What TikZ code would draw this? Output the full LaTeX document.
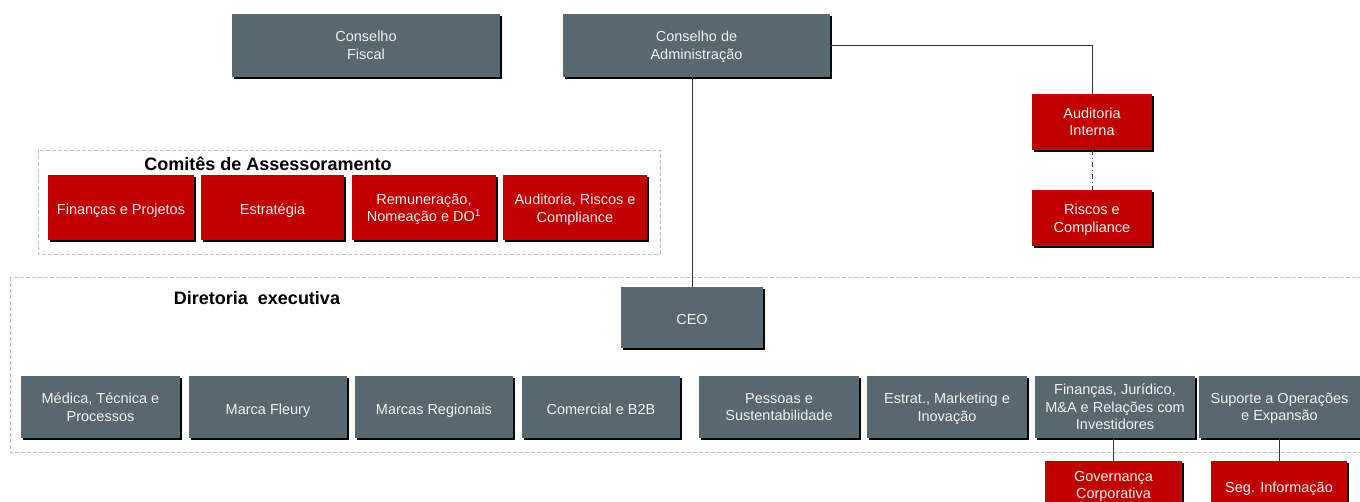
\documentclass[tikz,border=0pt]{standalone}
\usepackage{fontspec}
\setmainfont{Liberation Sans}
\usepackage{tikz}
\usetikzlibrary{shadows}
\definecolor{boxgray}{RGB}{87,104,113}
\definecolor{boxred}{RGB}{192,0,0}
\definecolor{boxtext}{RGB}{240,240,240}

\begin{document}
\begin{tikzpicture}[x=1pt,y=-1pt]
    \tikzstyle{every node}+=[inner sep=0pt]
    \tikzstyle{orgbox}=[rectangle, fill=boxgray, text=boxtext, align=center,
        font=\fontsize{14.5}{17.5}\selectfont, text depth=0pt,
        drop shadow={shadow xshift=2pt, shadow yshift=-2pt, fill=black, opacity=1}]
    \tikzstyle{redbox}=[orgbox, fill=boxred]
    \tikzstyle{oneline}=[text height=14pt]
    \tikzstyle{frame}=[draw=black!25, line width=0.8pt, dash pattern=on 4pt off 2pt]
    \tikzstyle{title}=[font=\fontsize{18}{20}\selectfont\bfseries]
    \tikzstyle{link}=[draw=black!80, line width=1pt]
    \useasboundingbox (0,0) rectangle (1360,502);
    % frames
    \draw [frame] (38,150) rectangle (660,254);
    \draw [frame] (10,277) rectangle (1366,452);
    \node [title] (comtitle) at (268,164) {Comitês de Assessoramento};
    \node [title] (dirtitle) at (257,298) {Diretoria\ \ executiva};
    % conselhos
    \node [orgbox, minimum width=268, minimum height=63] (cf) at (366,45.5) {Conselho\\Fiscal};
    \node [orgbox, minimum width=267, minimum height=63] (ca) at (696.5,45.5) {Conselho de\\Administração};
    \node [redbox, minimum width=120, minimum height=56] (aud) at (1092,122) {Auditoria\\Interna};
    \node [redbox, minimum width=120, minimum height=56] (risc) at (1092,218) {Riscos e\\Compliance};
    % comites
    \node [redbox, oneline, minimum width=146, minimum height=65] (fp) at (121,208) {Finanças e Projetos};
    \node [redbox, oneline, minimum width=143, minimum height=65] (estr) at (272.5,208) {Estratégia};
    \node [redbox, minimum width=144, minimum height=65] (rem) at (424,208) {Remuneração,\\Nomeação e DO\textsuperscript{1}};
    \node [redbox, minimum width=144, minimum height=65] (arc) at (575,208) {Auditoria, Riscos e\\Compliance};
    % diretoria
    \node [orgbox, oneline, minimum width=142, minimum height=61] (ceo) at (692,317.5) {CEO};
    \node [orgbox, minimum width=159, minimum height=62] (med) at (100.5,407) {Médica, Técnica e\\Processos};
    \node [orgbox, oneline, minimum width=158, minimum height=62] (fleury) at (268,407) {Marca Fleury};
    \node [orgbox, oneline, minimum width=158, minimum height=62] (regio) at (434,407) {Marcas Regionais};
    \node [orgbox, oneline, minimum width=158, minimum height=62] (comer) at (601,407) {Comercial e B2B};
    \node [orgbox, minimum width=160, minimum height=62] (pess) at (779,407) {Pessoas e\\Sustentabilidade};
    \node [orgbox, minimum width=160, minimum height=62] (mkt) at (947,407) {Estrat., Marketing e\\Inovação};
    \node [orgbox, minimum width=160, minimum height=62] (fin) at (1115,407) {Finanças, Jurídico,\\M\&A e Relações com\\Investidores};
    \node [orgbox, minimum width=161, minimum height=62] (sup) at (1279.5,407) {Suporte a Operações\\e Expansão};
    \node [redbox, minimum width=137, minimum height=48] (gov) at (1113.5,485) {Governança\\Corporativa};
    \node [redbox, oneline, minimum width=136, minimum height=48] (seg) at (1279,485) {Seg. Informação};
    % connectors
    \draw [link] (ca.east) -| (aud.north);
    \draw [link, line width=0.8pt, dash pattern=on 5pt off 3pt on 1pt off 3pt] (aud.south) -- (risc.north);
    \draw [link] (ceo.north) -- (ceo.north |- ca.south);
    \draw [link] (gov.north) -- (gov.north |- fin.south);
    \draw [link] (seg.north) -- (seg.north |- sup.south);
\end{tikzpicture}
\end{document}
